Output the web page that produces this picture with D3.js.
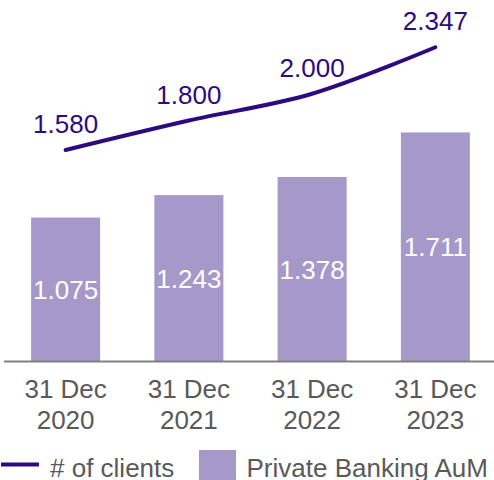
<!DOCTYPE html>
<html>
<head>
<meta charset="utf-8">
<script src="https://cdn.jsdelivr.net/npm/d3@7"></script>
<style>
  html, body { margin: 0; padding: 0; background: #fff; }
  svg { display: block; font-family: "Liberation Sans", Arial, sans-serif; }
</style>
</head>
<body>
<svg id="chart" width="494" height="480"></svg>
<script>
// Year-end snapshots
const categories = ["31 Dec 2020", "31 Dec 2021", "31 Dec 2022", "31 Dec 2023"];
const categoryLines = [["31 Dec", "2020"], ["31 Dec", "2021"], ["31 Dec", "2022"], ["31 Dec", "2023"]];
// Private Banking AuM (bars)
const aum = [1.075, 1.243, 1.378, 1.711];
const aumLabels = ["1.075", "1.243", "1.378", "1.711"];
// Number of clients (line)
const clients = [1.580, 1.800, 2.000, 2.347];
const clientLabels = ["1.580", "1.800", "2.000", "2.347"];
const legendItems = ["# of clients", "Private Banking AuM"];

const colors = { line: "#2E0A80", bar: "#A699CA", axis: "#808080", text: "#595959" };

const svg = d3.select("#chart");
const W = 494;

const x = d3.scaleBand().domain(categories).range([4, 497]).paddingInner(0.44).paddingOuter(0.22);
const y = d3.scaleLinear().domain([0, 2.7]).range([361.5, 0]);

// Bars
svg.append("g").selectAll("rect").data(aum).join("rect")
  .attr("x", (d, i) => x(categories[i]))
  .attr("y", d => y(d))
  .attr("width", x.bandwidth())
  .attr("height", d => y(0) - y(d))
  .attr("fill", colors.bar);

// Bar value labels
svg.append("g").selectAll("text").data(aum).join("text")
  .attr("x", (d, i) => x(categories[i]) + x.bandwidth() / 2)
  .attr("y", d => (y(d) + y(0)) / 2 + 9.5)
  .attr("text-anchor", "middle")
  .attr("font-size", 26)
  .attr("fill", "#fff")
  .text((d, i) => aumLabels[i]);

// Category axis
const axis = svg.append("g").attr("transform", `translate(0,${y(0)})`)
  .call(d3.axisBottom(x).tickSize(0).tickFormat(""));
axis.select(".domain").attr("stroke", colors.axis).attr("stroke-width", 2).attr("d", `M4,0H${W}`);

const xl = svg.append("g").selectAll("text").data(categoryLines).join("text")
  .attr("text-anchor", "middle")
  .attr("font-size", 26)
  .attr("fill", colors.text);
xl.each(function(lines, i) {
  const cx = x(categories[i]) + x.bandwidth() / 2;
  d3.select(this).selectAll("tspan").data(lines).join("tspan")
    .attr("x", cx)
    .attr("y", (l, j) => 397.5 + j * 31)
    .text(l => l);
});

// Clients line
const line = d3.line()
  .x((d, i) => x(categories[i]) + x.bandwidth() / 2)
  .y(d => y(d))
  .curve(d3.curveCatmullRom.alpha(0.5));
svg.append("path").datum(clients)
  .attr("d", line)
  .attr("fill", "none")
  .attr("stroke", colors.line)
  .attr("stroke-width", 4)
  .attr("stroke-linecap", "round");

svg.append("g").selectAll("text").data(clients).join("text")
  .attr("x", (d, i) => x(categories[i]) + x.bandwidth() / 2)
  .attr("y", d => y(d) - 17)
  .attr("text-anchor", "middle")
  .attr("font-size", 26)
  .attr("fill", colors.line)
  .text((d, i) => clientLabels[i]);

// Legend
const lg = svg.append("g");
lg.append("line").attr("x1", 1).attr("x2", 39).attr("y1", 464.5).attr("y2", 464.5)
  .attr("stroke", colors.line).attr("stroke-width", 4);
lg.append("text").attr("x", 50).attr("y", 477).attr("font-size", 26).attr("fill", colors.text).text(legendItems[0]);
lg.append("rect").attr("x", 199).attr("y", 450).attr("width", 37).attr("height", 37).attr("fill", colors.bar);
lg.append("text").attr("x", 246.5).attr("y", 477).attr("font-size", 26).attr("fill", colors.text).text(legendItems[1]);
</script>
</body>
</html>
